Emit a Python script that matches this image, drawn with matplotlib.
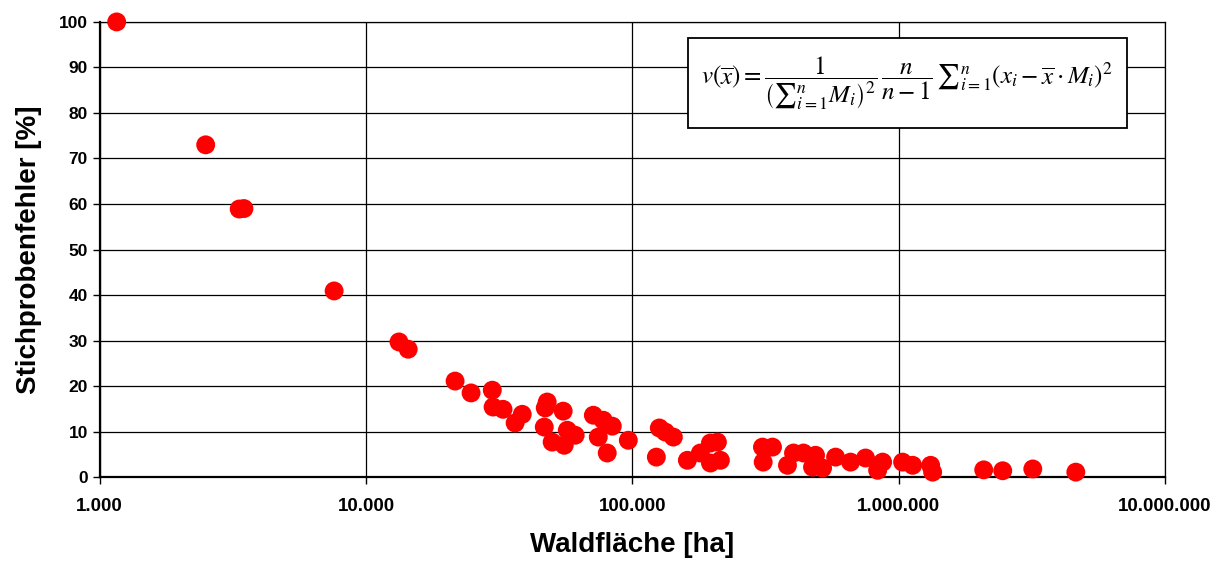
import matplotlib
matplotlib.use("Agg")
import matplotlib.pyplot as plt
from matplotlib.patches import Rectangle
from matplotlib.ticker import FuncFormatter, FixedLocator

plt.rcParams['font.family'] = ['Liberation Sans', 'DejaVu Sans']
plt.rcParams['mathtext.fontset'] = 'stix'

# Waldfläche [ha] and Stichprobenfehler [%]
waldflaeche = [
    1158, 2500, 3340, 3480, 7590, 13300, 14400,
    21600, 24800, 29800, 30000, 32700, 36300, 38600,
    47900, 47100, 55000, 46700, 50000, 55500, 57000, 61000,
    71400, 77800, 84100, 74500, 80500, 96600,
    126300, 133100, 142600, 123100, 161000, 180100, 196500, 208700, 214200, 196500,
    308100, 336000, 310000, 382500, 403000, 439300, 487500, 475000, 518000,
    579800, 659900, 751300, 834000, 870700,
    1035000, 1129000, 1319000, 1342000,
    2087000, 2460000, 3190000, 4628000,
]
fehler = [
    100, 73.0, 58.9, 59.0, 40.9, 29.7, 28.1,
    21.1, 18.5, 19.1, 15.4, 14.9, 11.9, 13.8,
    16.5, 15.2, 14.5, 11.0, 7.7, 7.0, 10.3, 9.2,
    13.6, 12.5, 11.2, 8.8, 5.3, 8.1,
    10.8, 9.9, 8.8, 4.4, 3.7, 5.3, 7.5, 7.7, 3.7, 3.1,
    6.6, 6.6, 3.3, 2.6, 5.3, 5.3, 4.8, 2.2, 2.0,
    4.4, 3.3, 4.2, 1.5, 3.3,
    3.3, 2.6, 2.6, 1.1,
    1.6, 1.4, 1.8, 1.1,
]
x_ticks = [1e3, 1e4, 1e5, 1e6, 1e7]
y_ticks = list(range(0, 101, 10))


def dot_thousands(v, pos):
    return f"{int(round(v)):,}".replace(",", ".")


fig = plt.figure(figsize=(12.16, 5.62), dpi=100)
ax = fig.add_axes([0.082, 0.151, 0.876, 0.810])

ax.scatter(waldflaeche, fehler, s=185, color='#ff0000', edgecolors='none',
           zorder=3, clip_on=False)

ax.set_xscale('log')
ax.set_xlim(1e3, 1e7)
ax.set_ylim(0, 100)
ax.xaxis.set_major_locator(FixedLocator(x_ticks))
ax.xaxis.set_minor_locator(FixedLocator([]))
ax.xaxis.set_major_formatter(FuncFormatter(dot_thousands))
ax.set_yticks(y_ticks)

ax.grid(True, which='major', color='black', linewidth=0.9)
ax.set_axisbelow(True)
for side in ['top', 'right']:
    ax.spines[side].set_linewidth(0.9)
for side in ['left', 'bottom']:
    ax.spines[side].set_linewidth(1.6)

ax.tick_params(axis='both', direction='out', length=5, width=1)
ax.tick_params(axis='y', labelsize=12.5)
ax.tick_params(axis='x', labelsize=13.5, pad=10)
for lab in ax.get_xticklabels() + ax.get_yticklabels():
    lab.set_fontweight('bold')

ax.set_xlabel("Waldfläche [ha]", fontsize=20, fontweight='bold', labelpad=12)
ax.set_ylabel("Stichprobenfehler [%]", fontsize=20, fontweight='bold', labelpad=12)

# formula box
ax.add_patch(Rectangle((0.552, 0.767), 0.412, 0.198, transform=ax.transAxes,
                       facecolor='white', edgecolor='black', linewidth=1.3,
                       zorder=4))
formula = (r"$v(\overline{x}) = \dfrac{1}{\left({\sum}_{i=1}^{n} M_i\right)^2}"
           r"\,\dfrac{n}{n-1}\,{\sum}_{i=1}^{n}(x_i - \overline{x}\cdot M_i)^2$")
ax.text(0.758, 0.866, formula, transform=ax.transAxes, fontsize=18,
        ha='center', va='center', zorder=5)

fig.savefig("out.png", dpi=100)
